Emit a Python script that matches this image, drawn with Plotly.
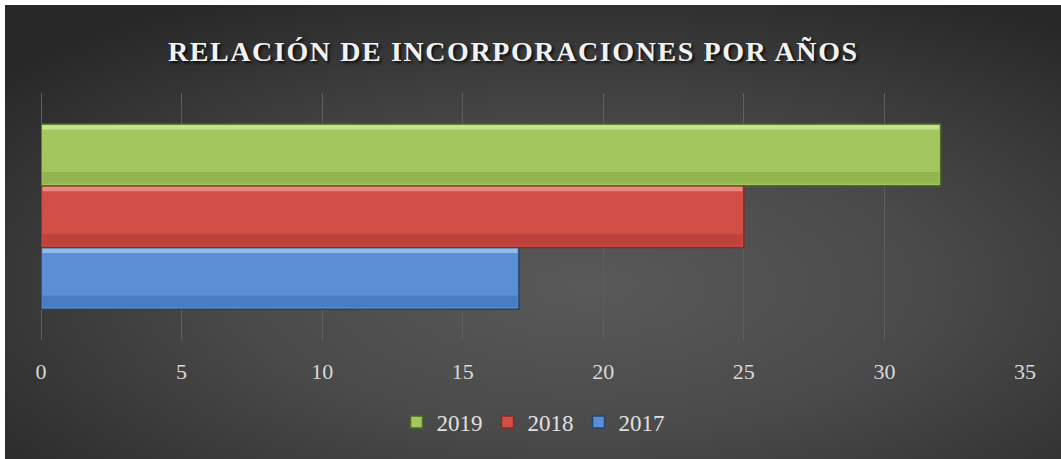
import base64
import plotly.graph_objects as go

# ---- data ----
series_names = ["2017", "2018", "2019"]
series_values = [17, 25, 32]
category = [""]
series_fill = ["#5a8fd6", "#d24f48", "#a3c75e"]
series_edge = ["#24466e", "#8b2a25", "#4e6b22"]
series_light = ["#a3c9f2", "#f39a94", "#d3eba0"]
series_dark = ["#3469a8", "#a9352f", "#7c9f3f"]
x_ticks = [0, 5, 10, 15, 20, 25, 30, 35]
title_text = "RELACIÓN DE INCORPORACIONES POR AÑOS"

W, H = 1061, 459
L, R, T, B = 41, 36, 93, 119
plot_w = W - L - R
plot_h = H - T - B
BARGAP = 0.25
EDGE = 5  # white strip at top and left

svg = """<svg xmlns='http://www.w3.org/2000/svg' width='1056' height='454' viewBox='0 0 1056 454' preserveAspectRatio='none'>
<defs><radialGradient id='g' cx='0.55' cy='0.62' r='0.72'>
<stop offset='0' stop-color='#595959'/>
<stop offset='0.45' stop-color='#4a4a4a'/>
<stop offset='1' stop-color='#282828'/>
</radialGradient></defs>
<rect width='1056' height='454' fill='url(#g)'/></svg>"""
src = "data:image/svg+xml;base64," + base64.b64encode(svg.encode()).decode()

fig = go.Figure()
for name, val, fc, ec in zip(series_names, series_values, series_fill, series_edge):
    fig.add_trace(go.Bar(
        x=[val], y=category, name=name, orientation="h",
        marker=dict(color=fc, line=dict(color=ec, width=1.5)),
        hoverinfo="x+name",
    ))

# bevel-like shading bands, positioned from the bar layout
n = len(series_values)
bw = (1 - BARGAP) / n
for i, (val, lc, dc) in enumerate(zip(series_values, series_light, series_dark)):
    y0 = -(1 - BARGAP) / 2 + i * bw
    y1 = y0 + bw
    fig.add_shape(type="rect", xref="x", yref="y", x0=0.05, x1=val - 0.05,
                  y0=y1 - bw * 0.09, y1=y1 - bw * 0.02,
                  fillcolor=lc, opacity=0.75, line=dict(width=0), layer="above")
    fig.add_shape(type="rect", xref="x", yref="y", x0=0.05, x1=val - 0.05,
                  y0=y0 + bw * 0.03, y1=y0 + bw * 0.22,
                  fillcolor=dc, opacity=0.45, line=dict(width=0), layer="above")

# white strips at top and left of the dark chart area
fig.add_shape(type="rect", xref="paper", yref="paper",
              x0=-L / plot_w, x1=(W - L + 20) / plot_w,
              y0=(H - B - EDGE) / plot_h, y1=(H - B + 20) / plot_h,
              fillcolor="white", line=dict(width=0), layer="below")
fig.add_shape(type="rect", xref="paper", yref="paper",
              x0=(-L - 20) / plot_w, x1=(EDGE - L) / plot_w,
              y0=(-B - 20) / plot_h, y1=(H - B + 20) / plot_h,
              fillcolor="white", line=dict(width=0), layer="below")

fig.add_layout_image(dict(
    source=src, xref="paper", yref="paper",
    x=(EDGE - L) / plot_w, y=(H - B - EDGE) / plot_h,
    sizex=(W - EDGE) / plot_w, sizey=(H - EDGE) / plot_h,
    xanchor="left", yanchor="top", sizing="stretch", layer="below",
))

fig.update_layout(
    width=W, height=H,
    margin=dict(l=L, r=R, t=T, b=B, pad=0),
    paper_bgcolor="#282828",
    plot_bgcolor="rgba(0,0,0,0)",
    barmode="group", bargap=BARGAP, bargroupgap=0,
    title=dict(
        text='<span style="letter-spacing:1.6px">' + title_text + '</span>',
        x=0.48, xref="paper", xanchor="center",
        y=1 - 51 / H, yref="container", yanchor="middle",
        font=dict(family="Liberation Serif", size=28, color="#f2f2f2", weight="bold",
                  shadow="2px 2px 3px rgba(0,0,0,0.8)"),
    ),
    xaxis=dict(
        range=[0, 35], tickvals=x_ticks, ticktext=[str(t) for t in x_ticks],
        showgrid=True, gridcolor="#5e5e5e", gridwidth=1,
        zeroline=True, zerolinecolor="#5e5e5e", zerolinewidth=1, showline=False,
        ticks="outside", ticklen=12, tickcolor="rgba(0,0,0,0)",
        tickfont=dict(family="Liberation Serif", size=22, color="#d9d9d9"),
        fixedrange=True,
    ),
    yaxis=dict(showticklabels=False, showgrid=False, zeroline=False, fixedrange=True,
               range=[-0.5, 0.5]),
    legend=dict(
        orientation="h", x=0.5, xanchor="center", xref="paper",
        y=(H - B - 422) / plot_h, yanchor="middle",
        traceorder="reversed",
        font=dict(family="Liberation Serif", size=23, color="#e0e0e0"),
        bgcolor="rgba(0,0,0,0)", itemwidth=30,
    ),
    showlegend=True,
)

fig.write_html("out.html", config={"displayModeBar": False})

with open("out.html", encoding="utf-8") as f:
    html = f.read()
html = html.replace(
    "<head>",
    "<head><style>html,body{margin:0;padding:0;overflow:hidden;background:#282828;}</style>",
    1,
)
with open("out.html", "w", encoding="utf-8") as f:
    f.write(html)
